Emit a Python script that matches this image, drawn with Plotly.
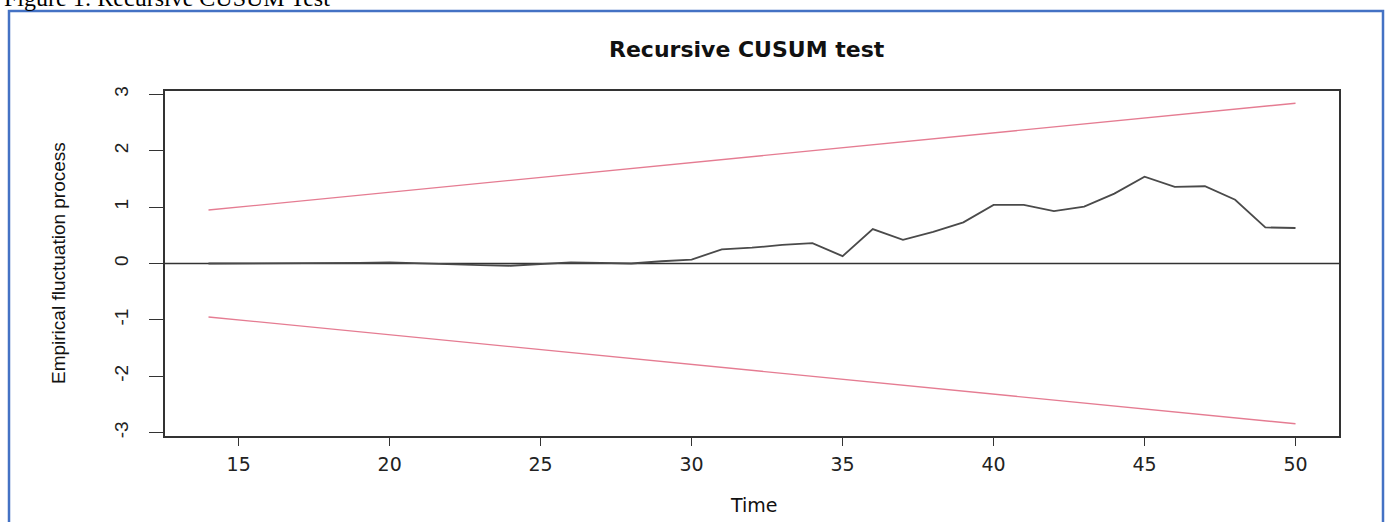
import plotly.graph_objects as go

# ---- data ----
time = list(range(14, 51))
process = [0.00, 0.00, 0.00, 0.00, 0.00, 0.01, 0.02, 0.00, -0.01, -0.03,
           -0.04, -0.01, 0.02, 0.01, 0.00, 0.04, 0.07, 0.25, 0.28, 0.33,
           0.36, 0.13, 0.61, 0.42, 0.56, 0.73, 1.04, 1.04, 0.93, 1.01,
           1.24, 1.54, 1.36, 1.37, 1.13, 0.64, 0.63]
bound_t = [14, 50]
upper_bound = [0.948, 2.844]
lower_bound = [-0.948, -2.844]
x_ticks = [15, 20, 25, 30, 35, 40, 45, 50]
y_ticks = [-3, -2, -1, 0, 1, 2, 3]

W, H = 1389, 522
L, R, T, B = 165, 50, 91, 86
pw, ph = W - L - R, H - T - B

def px(x):
    return (x - L) / pw

def py(y):
    return (H - B - y) / ph

pink = "#E57C92"
fig = go.Figure()
fig.add_trace(go.Scatter(x=bound_t, y=upper_bound, mode="lines",
                         line=dict(color=pink, width=1.4), showlegend=False))
fig.add_trace(go.Scatter(x=bound_t, y=lower_bound, mode="lines",
                         line=dict(color=pink, width=1.4), showlegend=False))
fig.add_trace(go.Scatter(x=time, y=process, mode="lines",
                         line=dict(color="#4a4a4a", width=1.8), showlegend=False))

fig.add_shape(type="line", xref="paper", yref="y", x0=0, x1=1, y0=0, y1=0,
              line=dict(color="#333333", width=1.4), layer="below")
# blue frame
fig.add_shape(type="rect", xref="paper", yref="paper",
              x0=px(9), x1=px(1383), y0=py(11), y1=py(540),
              line=dict(color="#4472C4", width=2.5), fillcolor="rgba(0,0,0,0)")

fig.add_annotation(text="Figure 1: Recursive CUSUM Test", xref="paper", yref="paper",
                   x=px(2), y=py(-17), xanchor="left", yanchor="top", showarrow=False,
                   font=dict(family="Liberation Serif", size=24, color="#000000"))
fig.add_annotation(text="<b>Recursive CUSUM test</b>", xref="paper", yref="paper",
                   x=px(747), y=py(49), xanchor="center", yanchor="middle", showarrow=False,
                   font=dict(family="DejaVu Sans", size=22, color="#111111"))
fig.add_annotation(text="Time", xref="paper", yref="paper",
                   x=px(754), y=py(505), xanchor="center", yanchor="middle", showarrow=False,
                   font=dict(family="DejaVu Sans", size=19, color="#111111"))
fig.add_annotation(text="Empirical fluctuation process", xref="paper", yref="paper",
                   x=px(58), y=py(263), xanchor="center", yanchor="middle", showarrow=False,
                   textangle=-90,
                   font=dict(family="Liberation Sans", size=19, color="#111111"))

fig.update_layout(
    width=W, height=H,
    margin=dict(l=L, r=R, t=T, b=B),
    paper_bgcolor="white", plot_bgcolor="white",
    showlegend=False,
)
fig.update_xaxes(range=[12.56, 51.44], tickvals=x_ticks, ticktext=[str(v) for v in x_ticks],
                 showgrid=False, zeroline=False, showline=True, mirror=True,
                 linecolor="#333333", linewidth=1.5, ticks="outside", ticklen=8,
                 tickcolor="#333333", tickwidth=1.3, ticklabelstandoff=2,
                 tickfont=dict(family="DejaVu Sans", size=19, color="#222222"))
fig.update_yaxes(range=[-3.06, 3.06], tickvals=y_ticks, ticktext=[str(v) for v in y_ticks],
                 showgrid=False, zeroline=False, showline=True, mirror=True,
                 linecolor="#333333", linewidth=1.5, ticks="outside", ticklen=14,
                 tickcolor="#333333", tickwidth=1.3, tickangle=-90, ticklabelstandoff=14,
                 tickfont=dict(family="Liberation Sans", size=19, color="#222222"))

fig.write_html("out.html", config={"displayModeBar": False},
               post_script="document.body.style.margin='0';")
